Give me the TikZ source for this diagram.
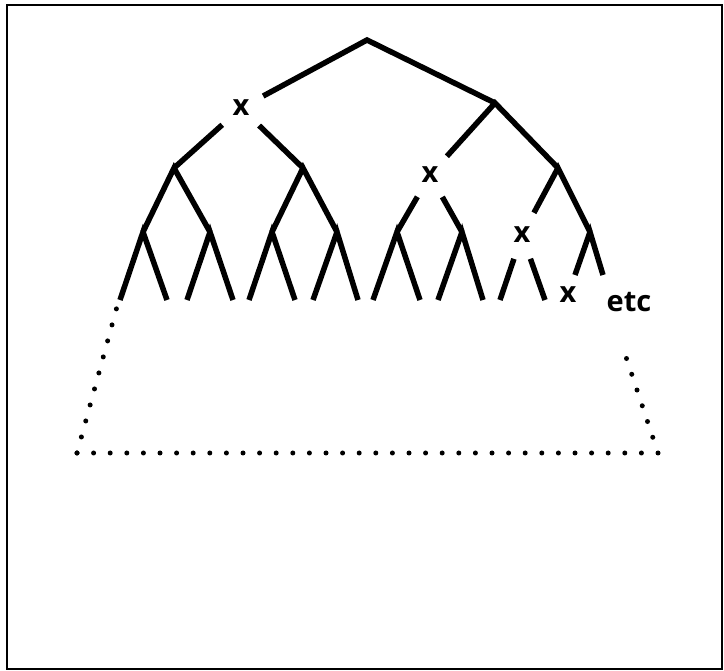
\documentclass[tikz,border=0pt]{standalone}
\usepackage{fontspec}
\setmainfont{Open Sans}
\begin{document}
\begin{tikzpicture}[x=1pt,y=-1pt,
  edge/.style={line width=5.5pt, line join=miter},
  xmark/.style={circle, minimum size=50pt, inner sep=0pt, font=\fontsize{29}{29}\selectfont\bfseries},
  lbl/.style={inner sep=0pt, font=\fontsize{29}{29}\selectfont\bfseries},
  dots/.style={line width=5pt, line cap=round, dash pattern=on 0pt off 16.6pt}]
\useasboundingbox (0,0) rectangle (724,671);
\draw[line width=2pt] (7,5) rectangle (722,669);
% level 0,1
\coordinate (r) at (367,40);
\node[xmark] (a) at (241,108) {x};
\coordinate (b) at (495,103);
% level 2
\coordinate (a1) at (174,168);
\coordinate (a2) at (303,168);
\node[xmark] (b1) at (430,175) {x};
\coordinate (b2) at (558,168);
% level 3
\coordinate (a11) at (143,232);
\coordinate (a12) at (210,232);
\coordinate (a21) at (272,232);
\coordinate (a22) at (337,232);
\coordinate (b11) at (397,232);
\coordinate (b12) at (462,232);
\node[xmark] (b21) at (522,235) {x};
\coordinate (b22) at (590,232);
% leaves
\coordinate (l1) at (120,300);  \coordinate (l2) at (167,300);
\coordinate (l3) at (187,300);  \coordinate (l4) at (233,300);
\coordinate (l5) at (249,300);  \coordinate (l6) at (295,300);
\coordinate (l7) at (313,300);  \coordinate (l8) at (358,300);
\coordinate (l9) at (373,300);  \coordinate (l10) at (420,300);
\coordinate (l11) at (438,300); \coordinate (l12) at (483,300);
\coordinate (l13) at (500,300); \coordinate (l14) at (545,300);
\node[xmark, minimum size=42pt] (l15) at (568,295) {x};
\coordinate (l16) at (603,275);
\node[lbl, anchor=base] (etc) at (629,312) {etc};
% edges
\draw[edge] (a) -- (r) -- (b);
\draw[edge] (a1) -- (a) -- (a2);
\draw[edge] (b1) -- (b) -- (b2);
\draw[edge] (a11) -- (a1) -- (a12);
\draw[edge] (a21) -- (a2) -- (a22);
\draw[edge] (b11) -- (b1) -- (b12);
\draw[edge] (b21) -- (b2) -- (b22);
\draw[edge] (l1) -- (a11) -- (l2);
\draw[edge] (l3) -- (a12) -- (l4);
\draw[edge] (l5) -- (a21) -- (l6);
\draw[edge] (l7) -- (a22) -- (l8);
\draw[edge] (l9) -- (b11) -- (l10);
\draw[edge] (l11) -- (b12) -- (l12);
\draw[edge] (l13) -- (b21) -- (l14);
\draw[edge] (l15) -- (b22) -- (l16);
% dotted outline
\coordinate (dl) at (118,303);
\coordinate (bl) at (77,453);
\coordinate (br) at (658,453);
\coordinate (dr) at (622,345);
\draw[dots] (bl) -- (dl);
\draw[dots] (bl) -- (br);
\draw[dots] (br) -- (dr);
\end{tikzpicture}
\end{document}
